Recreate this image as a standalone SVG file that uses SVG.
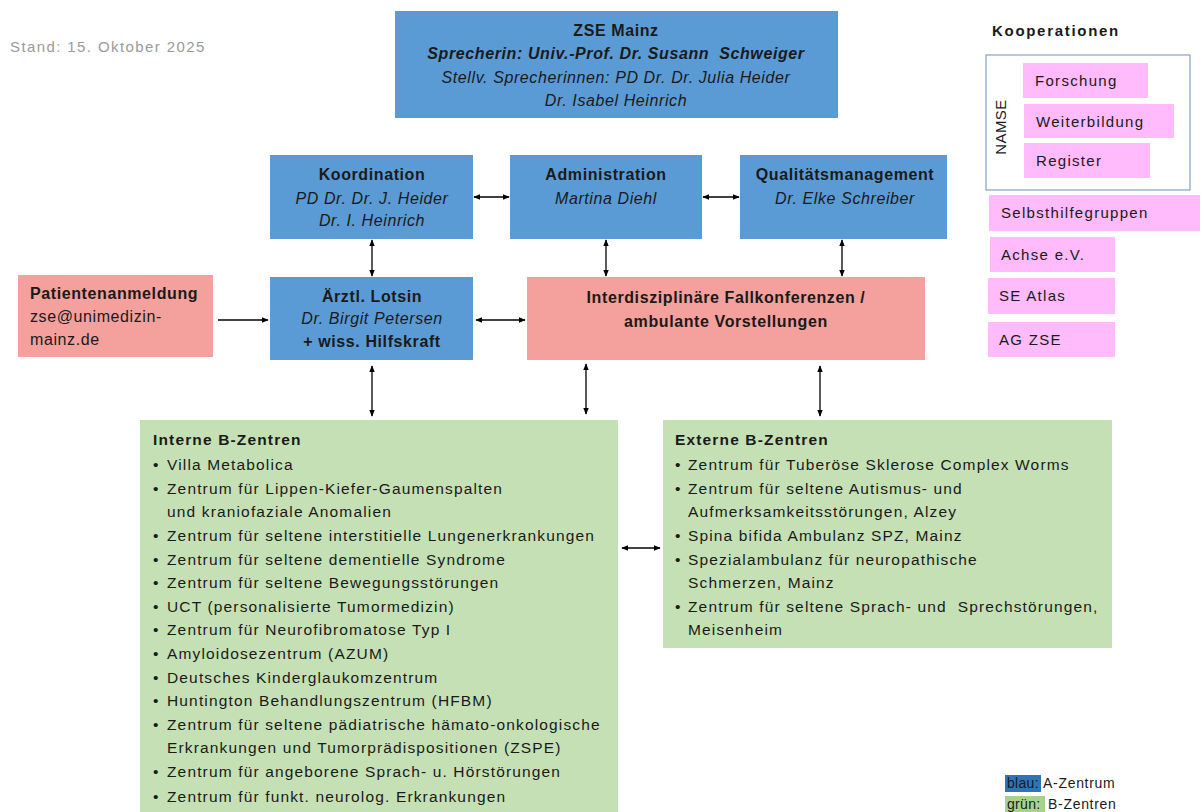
<svg xmlns="http://www.w3.org/2000/svg" width="1201" height="812" viewBox="0 0 1201 812">
<style>
text{font-family:"Liberation Sans",Arial,sans-serif;fill:#1a1a1a}
.blue{fill:#5B9BD5}
.red{fill:#F4A09C}
.green{fill:#C5E0B4}
.pink{fill:#FFBBFB}
.t{font-size:16px;letter-spacing:0.6px}
.b{font-weight:bold}
.i{font-style:italic}
.c{text-anchor:middle}
.l{font-size:15.5px;letter-spacing:1.15px}
.k{font-size:15px;letter-spacing:1.3px}
.con line{stroke:#000;stroke-width:1.3;marker-start:url(#ah);marker-end:url(#ah)}
</style>
<defs>
<marker id="ah" viewBox="0 0 10 10" refX="9" refY="5" markerWidth="7" markerHeight="7" markerUnits="userSpaceOnUse" orient="auto-start-reverse"><path d="M0,1 L10,5 L0,9 z" fill="#000"/></marker>
</defs>
<rect width="1201" height="812" fill="#fff"/>
<text x="10" y="52" style="font-size:15px;letter-spacing:1.4px;fill:#9a9a9a">Stand: 15. Oktober 2025</text>

<g id="zse">
<rect class="blue" x="395" y="11" width="443" height="107"/>
<text class="t b c" x="616" y="36">ZSE Mainz</text>
<text class="t b i c" x="616" y="59" xml:space="preserve">Sprecherin: Univ.-Prof. Dr. Susann  Schweiger</text>
<text class="t i c" x="616" y="83">Stellv. Sprecherinnen: PD Dr. Dr. Julia Heider</text>
<text class="t i c" x="616" y="106">Dr. Isabel Heinrich</text>
</g>

<g id="koordination">
<rect class="blue" x="270" y="155" width="203" height="84"/>
<text class="t b c" x="372" y="180">Koordination</text>
<text class="t i c" x="372" y="204">PD Dr. Dr. J. Heider</text>
<text class="t i c" x="372" y="226">Dr. I. Heinrich</text>
</g>

<g id="administration">
<rect class="blue" x="510" y="155" width="192" height="84"/>
<text class="t b c" x="606" y="180">Administration</text>
<text class="t i c" x="606" y="204">Martina Diehl</text>
</g>

<g id="qm">
<rect class="blue" x="740" y="155" width="207" height="84"/>
<text class="t b c" x="845" y="180">Qualitätsmanagement</text>
<text class="t i c" x="845" y="204">Dr. Elke Schreiber</text>
</g>

<g id="patientenanmeldung">
<rect class="red" x="18" y="275" width="195" height="82"/>
<text class="t b" x="30" y="299">Patientenanmeldung</text>
<text class="t" x="30" y="322">zse@unimedizin-</text>
<text class="t" x="30" y="345">mainz.de</text>
</g>

<g id="lotsin">
<rect class="blue" x="270" y="277" width="203" height="83"/>
<text class="t b c" x="372" y="302">Ärztl. Lotsin</text>
<text class="t i c" x="372" y="324">Dr. Birgit Petersen</text>
<text class="t b c" x="372" y="347">+ wiss. Hilfskraft</text>
</g>

<g id="fallkonferenzen">
<rect class="red" x="527" y="277" width="398" height="83"/>
<text class="t b c" x="726" y="303">Interdisziplinäre Fallkonferenzen /</text>
<text class="t b c" x="726" y="327">ambulante Vorstellungen</text>
</g>

<g id="interne">
<rect class="green" x="140" y="420" width="478" height="400"/>
<text class="l b" x="153" y="445">Interne B-Zentren</text>
<g class="l">
<text x="153" y="470">•</text><text x="167" y="470">Villa Metabolica</text>
<text x="153" y="494">•</text><text x="167" y="494">Zentrum für Lippen-Kiefer-Gaumenspalten</text>
<text x="167" y="517">und kraniofaziale Anomalien</text>
<text x="153" y="541">•</text><text x="167" y="541">Zentrum für seltene interstitielle Lungenerkrankungen</text>
<text x="153" y="565">•</text><text x="167" y="565">Zentrum für seltene dementielle Syndrome</text>
<text x="153" y="588">•</text><text x="167" y="588">Zentrum für seltene Bewegungsstörungen</text>
<text x="153" y="612">•</text><text x="167" y="612">UCT (personalisierte Tumormedizin)</text>
<text x="153" y="635">•</text><text x="167" y="635">Zentrum für Neurofibromatose Typ I</text>
<text x="153" y="659">•</text><text x="167" y="659">Amyloidosezentrum (AZUM)</text>
<text x="153" y="683">•</text><text x="167" y="683">Deutsches Kinderglaukomzentrum</text>
<text x="153" y="706">•</text><text x="167" y="706">Huntington Behandlungszentrum (HFBM)</text>
<text x="153" y="730">•</text><text x="167" y="730">Zentrum für seltene pädiatrische hämato-onkologische</text>
<text x="167" y="753">Erkrankungen und Tumorprädispositionen (ZSPE)</text>
<text x="153" y="777">•</text><text x="167" y="777">Zentrum für angeborene Sprach- u. Hörstörungen</text>
<text x="153" y="802">•</text><text x="167" y="802">Zentrum für funkt. neurolog. Erkrankungen</text>
</g>
</g>

<g id="externe">
<rect class="green" x="663" y="420" width="449" height="228"/>
<text class="l b" x="675" y="445">Externe B-Zentren</text>
<g class="l">
<text x="675" y="470">•</text><text x="688" y="470">Zentrum für Tuberöse Sklerose Complex Worms</text>
<text x="675" y="494">•</text><text x="688" y="494">Zentrum für seltene Autismus- und</text>
<text x="688" y="517">Aufmerksamkeitsstörungen, Alzey</text>
<text x="675" y="541">•</text><text x="688" y="541">Spina bifida Ambulanz SPZ, Mainz</text>
<text x="675" y="565">•</text><text x="688" y="565">Spezialambulanz für neuropathische</text>
<text x="688" y="588">Schmerzen, Mainz</text>
<text x="675" y="612">•</text><text x="688" y="612" xml:space="preserve">Zentrum für seltene Sprach- und  Sprechstörungen,</text>
<text x="688" y="635">Meisenheim</text>
</g>
</g>

<g id="kooperationen">
<text class="b" x="992" y="36" style="font-size:15px;letter-spacing:1.7px">Kooperationen</text>
<g id="namse">
<rect x="986" y="55" width="204" height="135" fill="#fff" stroke="#8EA9C8" stroke-width="1.3"/>
<text class="k" transform="translate(1006,127) rotate(-90)" text-anchor="middle" style="letter-spacing:0.4px">NAMSE</text>
<rect class="pink" x="1023" y="63" width="125" height="35"/>
<text class="k" x="1035" y="86">Forschung</text>
<rect class="pink" x="1024" y="104" width="150" height="34"/>
<text class="k" x="1036" y="127">Weiterbildung</text>
<rect class="pink" x="1024" y="143" width="126" height="35"/>
<text class="k" x="1036" y="166">Register</text>
</g>
<g id="selbsthilfe"><rect class="pink" x="989" y="195" width="211" height="36"/><text class="k" x="1001" y="218">Selbsthilfegruppen</text></g>
<g id="achse"><rect class="pink" x="990" y="237" width="125" height="35"/><text class="k" x="1001" y="260">Achse e.V.</text></g>
<g id="seatlas"><rect class="pink" x="988" y="278" width="127" height="36"/><text class="k" x="999" y="301">SE Atlas</text></g>
<g id="agzse"><rect class="pink" x="988" y="322" width="127" height="35"/><text class="k" x="999" y="345">AG ZSE</text></g>
</g>

<g id="legende">
<rect x="1005" y="775" width="36" height="17" fill="#2E75B6"/>
<text x="1007" y="788" style="font-size:14px;letter-spacing:0.3px">blau:</text>
<text x="1043" y="788" style="font-size:14px;letter-spacing:0.7px">A-Zentrum</text>
<rect x="1005" y="796" width="40" height="16" fill="#A9D18E"/>
<text x="1007" y="809" style="font-size:14px;letter-spacing:0.3px">grün:</text>
<text x="1048" y="809" style="font-size:14px;letter-spacing:0.7px">B-Zentren</text>
</g>

<g id="connectors" class="con">
<line x1="474" y1="197" x2="509" y2="197"/>
<line x1="703" y1="197" x2="739" y2="197"/>
<line x1="372" y1="240" x2="372" y2="276"/>
<line x1="606" y1="240" x2="606" y2="276"/>
<line x1="842" y1="240" x2="842" y2="276"/>
<line x1="218" y1="320" x2="268" y2="320" style="marker-start:none"/>
<line x1="476" y1="320" x2="525" y2="320"/>
<line x1="372" y1="366" x2="372" y2="416"/>
<line x1="586" y1="364" x2="586" y2="414"/>
<line x1="820" y1="366" x2="820" y2="416"/>
<line x1="622" y1="548" x2="660" y2="548"/>
</g>
</svg>
